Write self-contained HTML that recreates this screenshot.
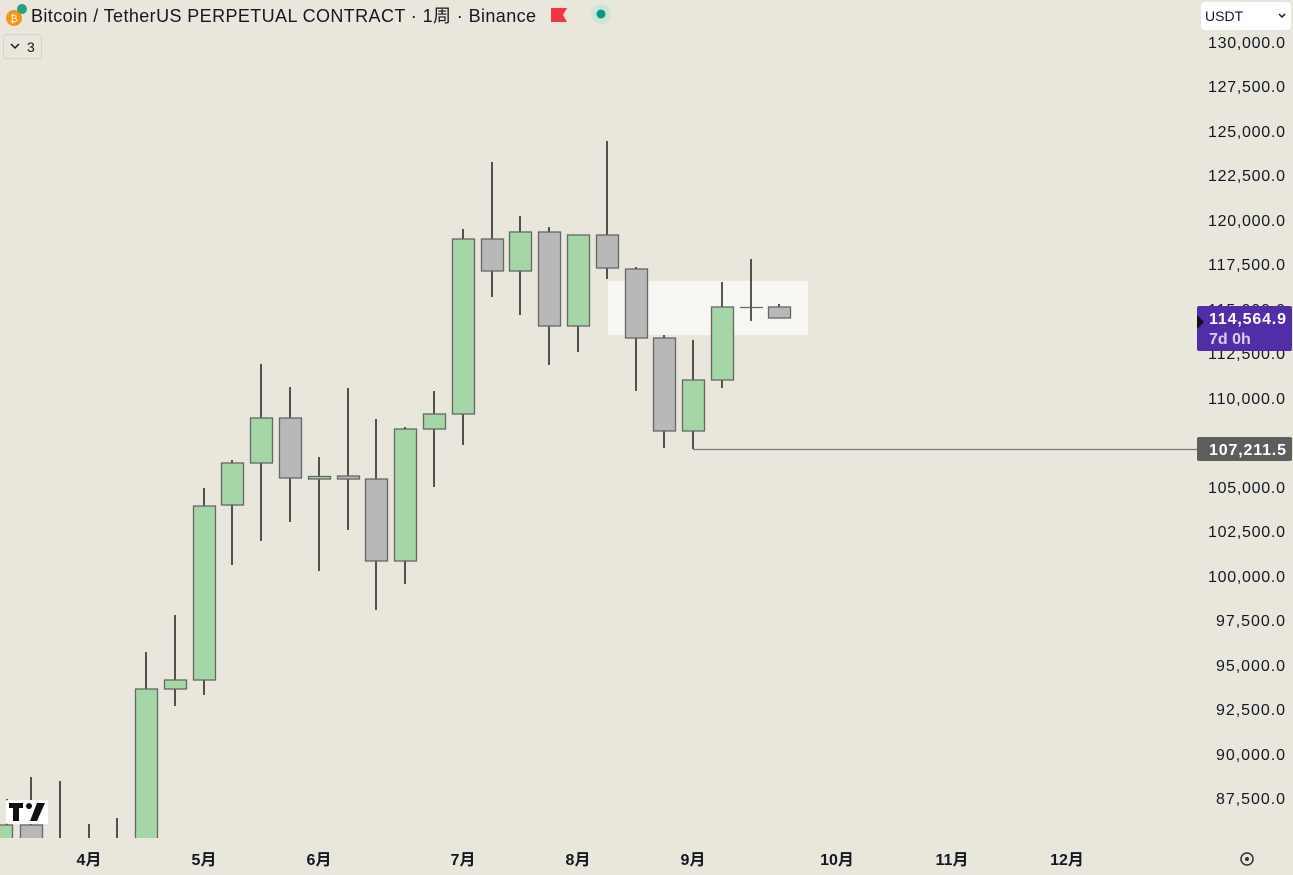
<!DOCTYPE html>
<html><head><meta charset="utf-8"><style>
body{margin:0;width:1293px;height:875px;background:#e9e6dc;overflow:hidden;font-family:"Liberation Sans","Noto Sans CJK SC",sans-serif;}
svg{position:absolute;left:0;top:0}
</style></head><body>
<svg width="1293" height="875" xmlns="http://www.w3.org/2000/svg">
<rect width="1293" height="875" fill="#e9e6dc"/>
<rect x="608" y="281" width="200" height="54" fill="#f7f6f2"/>
<line x1="693" y1="449.5" x2="1197" y2="449.5" stroke="#777" stroke-width="1.2"/>
<g stroke="#000" stroke-width="1.3">
<line x1="7" y1="799" x2="7" y2="838"/><line x1="31" y1="777" x2="31" y2="838"/>
<line x1="60" y1="781" x2="60" y2="838"/><line x1="89" y1="824" x2="89" y2="838"/><line x1="117" y1="818" x2="117" y2="838"/>
<line x1="146" y1="652" x2="146" y2="689"/>
<line x1="175" y1="615" x2="175" y2="706"/>
<line x1="204" y1="488" x2="204" y2="695"/>
<line x1="232" y1="460" x2="232" y2="565"/>
<line x1="261" y1="364" x2="261" y2="541"/>
<line x1="290" y1="387" x2="290" y2="522"/>
<line x1="319" y1="457" x2="319" y2="571"/>
<line x1="348" y1="388" x2="348" y2="530"/>
<line x1="376" y1="419" x2="376" y2="610"/>
<line x1="405" y1="427" x2="405" y2="584"/>
<line x1="434" y1="391" x2="434" y2="487"/>
<line x1="463" y1="229" x2="463" y2="445"/>
<line x1="492" y1="162" x2="492" y2="297"/>
<line x1="520" y1="216" x2="520" y2="315"/>
<line x1="549" y1="227" x2="549" y2="365"/>
<line x1="578" y1="235" x2="578" y2="352"/>
<line x1="607" y1="141" x2="607" y2="279"/>
<line x1="636" y1="267" x2="636" y2="391"/>
<line x1="664" y1="335" x2="664" y2="448"/>
<line x1="693" y1="340" x2="693" y2="449"/>
<line x1="722" y1="282" x2="722" y2="388"/>
<line x1="751" y1="259" x2="751" y2="321"/>
<line x1="779" y1="304" x2="779" y2="312"/>
</g>
<g stroke="#666" stroke-width="1.3">
<rect x="-4.5" y="825" width="17" height="15" fill="#a5d6a7"/>
<rect x="20.5" y="825" width="22" height="15" fill="#b8b8b8"/>
<rect x="135.5" y="689" width="22" height="151" fill="#a5d6a7"/>
<rect x="164.5" y="680" width="22" height="9" fill="#a5d6a7"/>
<rect x="193.5" y="506" width="22" height="174" fill="#a5d6a7"/>
<rect x="221.5" y="463" width="22" height="42" fill="#a5d6a7"/>
<rect x="250.5" y="418" width="22" height="45" fill="#a5d6a7"/>
<rect x="279.5" y="418" width="22" height="60" fill="#b8b8b8"/>
<rect x="308.5" y="476.5" width="22" height="2.5" fill="#a5d6a7"/>
<rect x="337.5" y="476" width="22" height="3" fill="#b8b8b8"/>
<rect x="365.5" y="479" width="22" height="82" fill="#b8b8b8"/>
<rect x="394.5" y="429" width="22" height="132" fill="#a5d6a7"/>
<rect x="423.5" y="414" width="22" height="15" fill="#a5d6a7"/>
<rect x="452.5" y="239" width="22" height="175" fill="#a5d6a7"/>
<rect x="481.5" y="239" width="22" height="32" fill="#b8b8b8"/>
<rect x="509.5" y="232" width="22" height="39" fill="#a5d6a7"/>
<rect x="538.5" y="232" width="22" height="94" fill="#b8b8b8"/>
<rect x="567.5" y="235" width="22" height="91" fill="#a5d6a7"/>
<rect x="596.5" y="235" width="22" height="33" fill="#b8b8b8"/>
<rect x="625.5" y="269" width="22" height="69" fill="#b8b8b8"/>
<rect x="653.5" y="338" width="22" height="93" fill="#b8b8b8"/>
<rect x="682.5" y="380" width="22" height="51" fill="#a5d6a7"/>
<rect x="711.5" y="307" width="22" height="73" fill="#a5d6a7"/>
<line x1="740" y1="307.5" x2="763" y2="307.5"/>
<rect x="768.5" y="307" width="22" height="11" fill="#b8b8b8"/>
</g>
<rect x="0" y="838" width="1197" height="37" fill="#e9e6dc"/>
<g><rect x="6" y="800" width="42" height="24" fill="#fff" rx="2"/>
<path d="M9 803h14v5h-4v13h-6v-13h-4z" fill="#111"/><circle cx="29" cy="806" r="3" fill="#111"/><path d="M37 803h8l-8 18h-7z" fill="#111"/></g>
<g font-size="16" fill="#131722" text-anchor="end" font-family="Liberation Sans, sans-serif">
<text x="1285" y="48" textLength="77">130,000.0</text><text x="1285" y="92" textLength="77">127,500.0</text>
<text x="1285" y="137" textLength="77">125,000.0</text><text x="1285" y="181" textLength="77">122,500.0</text>
<text x="1285" y="226" textLength="77">120,000.0</text><text x="1285" y="270" textLength="77">117,500.0</text>
<text x="1285" y="315" textLength="77">115,000.0</text><text x="1285" y="359" textLength="77">112,500.0</text>
<text x="1285" y="404" textLength="77">110,000.0</text><text x="1285" y="448" textLength="77">107,500.0</text>
<text x="1285" y="493" textLength="77">105,000.0</text><text x="1285" y="537" textLength="77">102,500.0</text>
<text x="1285" y="582" textLength="77">100,000.0</text><text x="1285" y="626" textLength="69">97,500.0</text>
<text x="1285" y="671" textLength="69">95,000.0</text><text x="1285" y="715" textLength="69">92,500.0</text>
<text x="1285" y="760" textLength="69">90,000.0</text><text x="1285" y="804" textLength="69">87,500.0</text>
</g>
<rect x="1197" y="306" width="95" height="45" fill="#512da8" rx="2"/>
<path d="M1197 315l7 7-7 7z" fill="#111"/>
<text x="1209" y="324" font-size="16" font-weight="bold" fill="#fff" textLength="77">114,564.9</text>
<text x="1209" y="344" font-size="16" font-weight="bold" fill="#d8cff0">7d 0h</text>
<rect x="1197" y="437" width="95" height="24" fill="#5d5d5d" rx="2"/>
<text x="1209" y="455" font-size="16" font-weight="bold" fill="#fff" textLength="77">107,211.5</text>
<g font-size="16" fill="#131722" text-anchor="middle" font-weight="bold" font-family="Liberation Sans, 'Noto Sans CJK SC', sans-serif">
<text x="89" y="865">4月</text><text x="204" y="865">5月</text><text x="319" y="865">6月</text>
<text x="463" y="865">7月</text><text x="578" y="865">8月</text><text x="693" y="865">9月</text>
<text x="837" y="865">10月</text><text x="952" y="865">11月</text><text x="1067" y="865">12月</text>
</g>
<circle cx="1247" cy="859" r="6" fill="none" stroke="#333" stroke-width="1.5"/><circle cx="1247" cy="859" r="2" fill="#333"/>
<rect x="1201" y="2" width="90" height="28" rx="4" fill="#fff"/>
<text x="1205" y="21" font-size="14" fill="#131722">USDT</text>
<path d="M1279 14l3 3 3-3" stroke="#131722" fill="none" stroke-width="1.5"/>
<circle cx="14" cy="18" r="8" fill="#f7931a"/><text x="14" y="22" font-size="10" fill="#fff" text-anchor="middle">₿</text>
<circle cx="22" cy="9" r="5" fill="#26a17b"/>
<text x="31" y="22" font-size="18" fill="#131722" textLength="505" font-family="Liberation Sans, 'Noto Sans CJK SC', sans-serif">Bitcoin / TetherUS PERPETUAL CONTRACT · 1周 · Binance</text>
<path d="M551 8h16l-4 7 4 7h-16z" fill="#f23645"/>
<circle cx="601" cy="14" r="10" fill="#cfe3d8"/><circle cx="601" cy="14" r="4.5" fill="#089981"/>
<rect x="3.5" y="34.5" width="38" height="24" rx="3" fill="#e9e6dc" stroke="#d6d3ca"/>
<path d="M11 44l4 4 4-4" stroke="#131722" fill="none" stroke-width="1.5"/>
<text x="27" y="52" font-size="14" fill="#131722">3</text>
</svg>
</body></html>
